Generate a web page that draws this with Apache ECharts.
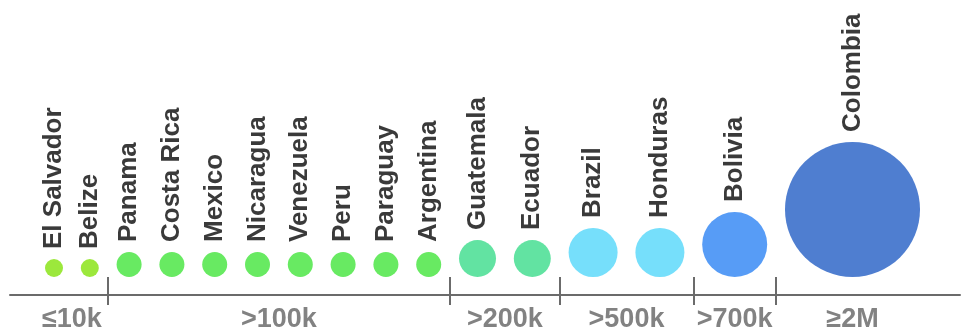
<!DOCTYPE html>
<html>
<head>
<meta charset="utf-8">
<script src="https://cdn.jsdelivr.net/npm/echarts@6/dist/echarts.min.js"></script>
<style>html,body{margin:0;padding:0;background:#fff;}#c{width:965px;height:333px;}</style>
</head>
<body>
<div id="c"></div>
<script>
// ---- DATA ----
const countries = ['El Salvador','Belize','Panama','Costa Rica','Mexico','Nicaragua','Venezuela','Peru','Paraguay','Argentina','Guatemala','Ecuador','Brazil','Honduras','Bolivia','Colombia'];
// tier index for each country (into tierLabels)
const countryTier = [0,0,1,1,1,1,1,1,1,1,2,2,3,3,4,5];
const tierLabels = ['≤10k','>100k','>200k','>500k','>700k','≥2M'];

// ---- STYLE ----
const tierSize = [18, 25, 37, 49, 65, 135];
const tierColor = ['#9ce83c', '#68ea62', '#62e3a2', '#76dffb', '#579cf6', '#4f7ed0'];
const GAP = 17.8;    // space between neighbouring bubbles
const START = 45;    // left edge of first bubble (axis units = px)
const FONT = '"Liberation Sans", Arial, sans-serif';

// layout: pack bubbles left to right
const xs = [];
let edge = START;
countries.forEach((c, i) => {
  const d = tierSize[countryTier[i]];
  if (i > 0) edge += GAP;
  xs.push(edge + d / 2);
  edge += d;
});
// tier boundaries (middle of gap between tiers) and tier label centres
const boundaries = [];
const centres = [];
tierLabels.forEach((t, k) => {
  const idx = countryTier.map((v, i) => v === k ? i : -1).filter(i => i >= 0);
  centres.push(idx.reduce((s, i) => s + xs[i], 0) / idx.length);
  const last = idx[idx.length - 1];
  if (k < tierLabels.length - 1) {
    const rEdge = xs[last] + tierSize[k] / 2;
    const lEdge = xs[last + 1] - tierSize[k + 1] / 2;
    boundaries.push((rEdge + lEdge) / 2);
  }
});

const data = countries.map((c, i) => {
  const t = countryTier[i];
  const s = tierSize[t];
  return {
    name: c,
    value: [xs[i], 0],
    symbolSize: s,
    symbolOffset: [0, -s / 2],
    itemStyle: { color: tierColor[t], opacity: 1 }
  };
});

const axisCommon = {
  type: 'value', min: 10, max: 960, position: 'bottom',
  splitLine: { show: false }
};
const LINE = '#6b6b6b';

const chart = echarts.init(document.getElementById('c'));
chart.setOption({
  animation: false,
  backgroundColor: '#ffffff',
  grid: { left: 10, right: 5, top: 0, bottom: 51 },
  xAxis: [
    // ticks + tier labels (axis line hidden, sits 10px above the drawn line)
    Object.assign({}, axisCommon, {
      offset: 8,
      axisLine: { show: false },
      axisTick: { show: true, inside: false, length: 28, customValues: boundaries, lineStyle: { color: LINE, width: 2 } },
      axisLabel: {
        show: true, customValues: centres, margin: 21,
        fontFamily: FONT, fontSize: 27, fontWeight: 'bold', color: '#828282',
        formatter: function (v) {
          let best = 0, bd = Infinity;
          centres.forEach((c, k) => { const d = Math.abs(c - v); if (d < bd) { bd = d; best = k; } });
          return tierLabels[best];
        }
      }
    }),
    // the drawn axis line
    Object.assign({}, axisCommon, {
      offset: 18,
      axisLine: { show: true, lineStyle: { color: LINE, width: 2 } },
      axisTick: { show: false },
      axisLabel: { show: false }
    })
  ],
  yAxis: { type: 'value', min: 0, max: 1, show: false },
  series: [{
    type: 'scatter',
    xAxisIndex: 0,
    clip: false,
    symbol: 'circle',
    data: data,
    label: {
      show: true,
      position: 'top',
      distance: 10,
      rotate: 90,
      align: 'left',
      verticalAlign: 'middle',
      formatter: '{b}',
      fontFamily: FONT,
      fontSize: 26,
      fontWeight: 'bold',
      color: '#3a3a3a'
    },
    emphasis: { disabled: true }
  }]
});
</script>
</body>
</html>
